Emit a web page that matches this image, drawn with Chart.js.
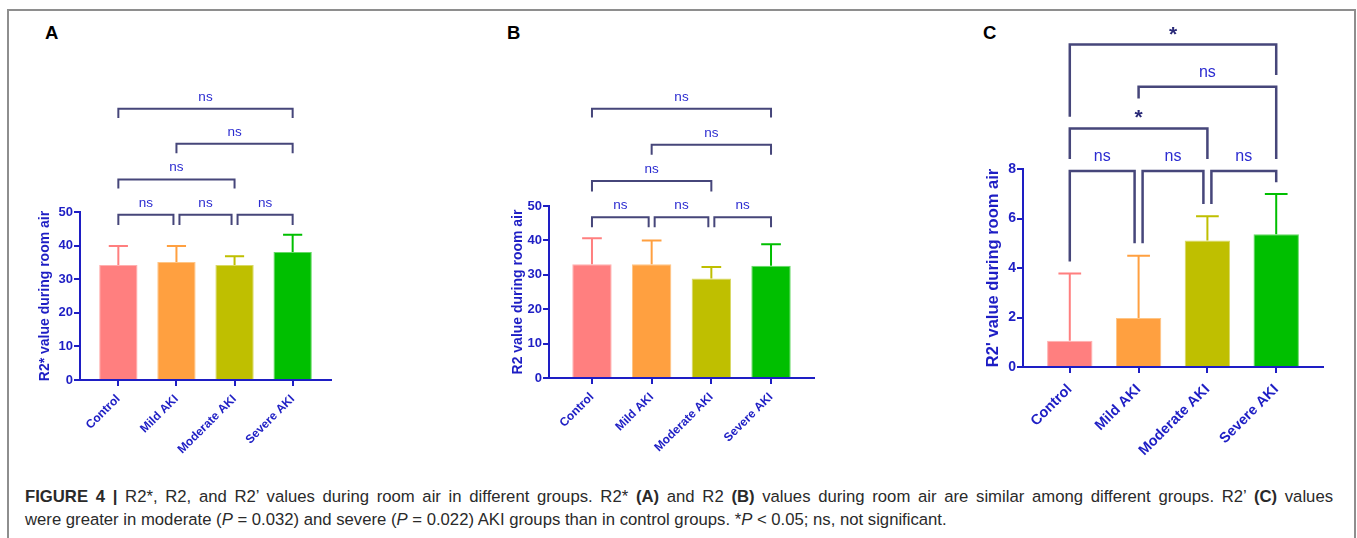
<!DOCTYPE html>
<html>
<head>
<meta charset="utf-8">
<script src="https://cdn.jsdelivr.net/npm/chart.js@4.4.1/dist/chart.umd.min.js"></script>
<style>
  body { margin: 0; background: #fff; width: 1357px; height: 538px; position: relative; overflow: hidden;
         font-family: "Liberation Sans", Arial, sans-serif; }
  .frame { position: absolute; left: 7px; top: 9px; width: 1349px; height: 560px; border: 2px solid #8e8e8e;
           border-bottom: none; box-sizing: border-box; }
  .letter { position: absolute; top: 24px; font-size: 18.5px; font-weight: bold; line-height: 1; color: #000; }
  canvas { position: absolute; }
  .caption { position: absolute; left: 25px; width: 1308px; font-size: 16.7px; line-height: 23px; color: #2a2a2a; }
  .justify { text-align: justify; text-align-last: justify; }
</style>
</head>
<body>
<div class="frame"></div>
<div class="letter" style="left:45px">A</div>
<div class="letter" style="left:507px">B</div>
<div class="letter" style="left:983px">C</div>
<canvas id="chartA" width="335" height="455" style="left:10px; top:12px"></canvas>
<canvas id="chartB" width="345" height="455" style="left:480px; top:12px"></canvas>
<canvas id="chartC" width="380" height="455" style="left:960px; top:12px"></canvas>
<div class="caption justify" style="top:485px"><b>FIGURE 4 |</b> R2*, R2, and R2’ values during room air in different groups. R2* <b>(A)</b> and R2 <b>(B)</b> values during room air are similar among different groups. R2’ <b>(C)</b> values</div>
<div class="caption" style="top:508px">were greater in moderate (<i>P</i> = 0.032) and severe (<i>P</i> = 0.022) AKI groups than in control groups. *<i>P</i> &lt; 0.05; ns, not significant.</div>
<script>
// groups and colours shared by the three panels
const groups = ['Control', 'Mild AKI', 'Moderate AKI', 'Severe AKI'];
const barColors = ['#ff7f7f', '#ffa040', '#bfbf00', '#00bf00'];
const edgeColors = ['#ffb0b0', '#ffc585', '#d9d966', '#66d966'];

// A: R2* (mean, SD)
const meanA = [34.2, 35.1, 34.2, 38.1];
const sdA = [5.7, 4.8, 2.6, 5.1];
const yTicksA = [0, 10, 20, 30, 40, 50];

// B: R2
const meanB = [33.1, 33.1, 28.9, 32.6];
const sdB = [7.5, 6.9, 3.4, 6.3];
const yTicksB = [0, 10, 20, 30, 40, 50];

// C: R2'
const meanC = [1.06, 1.98, 5.11, 5.36];
const sdC = [2.72, 2.52, 0.98, 1.63];
const yTicksC = [0, 2, 4, 6, 8];

// pairwise comparisons and their results
const pairs = [[0, 1], [1, 2], [2, 3], [0, 2], [1, 3], [0, 3]];
const sigA = ['ns', 'ns', 'ns', 'ns', 'ns', 'ns'];
const sigB = ['ns', 'ns', 'ns', 'ns', 'ns', 'ns'];
const sigC = ['ns', 'ns', 'ns', '*', 'ns', '*'];

// bracket heights in axis units: [bar, left leg end, right leg end]
const levelsA = [[49.2, 46.1, 46.1], [49.2, 46.1, 46.1], [49.2, 46.1, 46.1], [59.7, 57, 57], [70.3, 67.5, 67.5], [80.7, 78, 78]];
const levelsB = [[46.7, 43.8, 43.8], [46.7, 43.8, 43.8], [46.7, 43.8, 43.8], [57.3, 54.2, 54.2], [67.8, 64.9, 64.9], [78.3, 75.7, 75.7]];
const levelsC = [[7.92, 4.26, 5.0], [7.92, 5.0, 6.59], [7.92, 6.59, 7.46], [9.64, 8.4, 8.4], [11.32, 10.85, 8.4], [13.03, 10.11, 11.8]];

const axisColor = '#1e1ec4';
const bracketColor = '#46467a';
const fontFamily = '"Liberation Sans", Arial, sans-serif';

// error bars and significance brackets
function markings(cfg) {
    return {
        id: 'markings',
        afterDatasetsDraw(chart) {
            const ctx = chart.ctx;
            const y = chart.scales.y;
            const bars = chart.getDatasetMeta(0).data;
            ctx.save();
            ctx.lineWidth = cfg.errWidth;
            bars.forEach((bar, i) => {
                const base = y.getPixelForValue(cfg.mean[i]);
                const top = y.getPixelForValue(cfg.mean[i] + cfg.sd[i]);
                const half = bar.width / 4;
                ctx.strokeStyle = barColors[i];
                ctx.beginPath();
                ctx.moveTo(bar.x, base);
                ctx.lineTo(bar.x, top);
                ctx.moveTo(bar.x - half, top);
                ctx.lineTo(bar.x + half, top);
                ctx.stroke();
            });
            ctx.restore();
        },
        afterDraw(chart) {
            const ctx = chart.ctx;
            const y = chart.scales.y;
            const bars = chart.getDatasetMeta(0).data;
            ctx.save();
            ctx.strokeStyle = bracketColor;
            ctx.lineWidth = cfg.bracketWidth;
            ctx.textAlign = 'center';
            ctx.textBaseline = 'alphabetic';
            pairs.forEach(([a, b], k) => {
                const [lv, le, re] = cfg.levels[k];
                let xa = bars[a].x, xb = bars[b].x;
                if (b - a === 1) {
                    if (a > 0) xa += cfg.gap;
                    if (b < groups.length - 1) xb -= cfg.gap;
                }
                const yl = y.getPixelForValue(lv);
                ctx.beginPath();
                ctx.moveTo(xa, y.getPixelForValue(le));
                ctx.lineTo(xa, yl);
                ctx.lineTo(xb, yl);
                ctx.lineTo(xb, y.getPixelForValue(re));
                ctx.stroke();
                const label = cfg.sig[k];
                if (label === '*') {
                    ctx.font = `bold ${cfg.starSize}px ${fontFamily}`;
                    ctx.fillStyle = '#2a2a78';
                    ctx.fillText(label, (xa + xb) / 2, yl - cfg.starOffset);
                } else {
                    ctx.font = `${cfg.nsSize}px ${fontFamily}`;
                    ctx.fillStyle = '#2b2bd0';
                    ctx.fillText(label, (xa + xb) / 2, yl - cfg.nsOffset);
                }
            });
            ctx.restore();
        }
    };
}

function drawPanel(id, box, area, cfg) {
    const ctx = document.getElementById(id).getContext('2d');
    const tickFont = { family: fontFamily, weight: 'bold', size: cfg.tickSize };
    return new Chart(ctx, {
        type: 'bar',
        data: {
            datasets: [{
                data: cfg.mean.map((v, i) => ({ x: i, y: v })),
                backgroundColor: barColors,
                borderColor: edgeColors,
                borderWidth: 1,
                barPercentage: 0.66,
                categoryPercentage: 1
            }]
        },
        options: {
            responsive: false,
            animation: false,
            layout: { padding: { left: 0, bottom: 0, top: area.top - box.top, right: box.left + box.width - area.right } },
            plugins: { legend: { display: false }, tooltip: { enabled: false } },
            scales: {
                x: {
                    type: 'linear',
                    offset: false,
                    min: -cfg.edge,
                    max: groups.length - 1 + cfg.edge,
                    afterBuildTicks: s => { s.ticks = groups.map((g, i) => ({ value: i })); },
                    afterFit: s => { s.height = box.top + box.height - area.bottom; },
                    ticks: {
                        callback: v => groups[v],
                        autoSkip: false, minRotation: 45, maxRotation: 45,
                        color: axisColor, padding: cfg.xPad,
                        font: { family: fontFamily, weight: 'bold', size: cfg.xSize }
                    },
                    grid: { offset: false, drawOnChartArea: false, drawTicks: true, tickLength: 6, lineWidth: 2, color: axisColor },
                    border: { display: true, color: axisColor, width: 2 }
                },
                y: {
                    min: cfg.ticks[0],
                    max: cfg.ticks[cfg.ticks.length - 1],
                    afterBuildTicks: s => { s.ticks = cfg.ticks.map(v => ({ value: v })); },
                    afterFit: s => { s.width = area.left - box.left; },
                    ticks: { color: axisColor, padding: 1, font: tickFont },
                    grid: { drawOnChartArea: false, drawTicks: true, tickLength: 6, lineWidth: 2, color: axisColor },
                    border: { display: true, color: axisColor, width: 2 },
                    title: {
                        display: true, text: cfg.title, color: axisColor,
                        font: { family: fontFamily, weight: 'bold', size: cfg.titleSize },
                        padding: { top: cfg.titlePad, bottom: 0 }
                    }
                }
            }
        },
        plugins: [markings(cfg)]
    });
}

drawPanel('chartA',
    { left: 10, top: 12, width: 335, height: 455 },
    { left: 80, top: 212, right: 331, bottom: 380 },
    { mean: meanA, sd: sdA, ticks: yTicksA, sig: sigA, levels: levelsA, title: 'R2* value during room air',
      edge: 0.66, tickSize: 13, xSize: 12, xPad: 6, titleSize: 14, titlePad: 26.6,
      errWidth: 2, bracketWidth: 2, gap: 3, nsSize: 13.5, nsOffset: 8, starSize: 20, starOffset: 4 });

drawPanel('chartB',
    { left: 480, top: 12, width: 345, height: 455 },
    { left: 549, top: 206, right: 814, bottom: 378 },
    { mean: meanB, sd: sdB, ticks: yTicksB, sig: sigB, levels: levelsB, title: 'R2 value during room air',
      edge: 0.72, tickSize: 13, xSize: 12, xPad: 6, titleSize: 14, titlePad: 29.9,
      errWidth: 2, bracketWidth: 2, gap: 3, nsSize: 13.5, nsOffset: 8, starSize: 20, starOffset: 4 });

drawPanel('chartC',
    { left: 960, top: 12, width: 380, height: 455 },
    { left: 1023, top: 169, right: 1323, bottom: 367 },
    { mean: meanC, sd: sdC, ticks: yTicksC, sig: sigC, levels: levelsC, title: "R2' value during room air",
      edge: 0.68, tickSize: 14, xSize: 14.5, xPad: 8, titleSize: 16.5, titlePad: 23.4,
      errWidth: 2, bracketWidth: 2.5, gap: 4, nsSize: 16, nsOffset: 10, starSize: 21, starOffset: 4 });
</script>
</body>
</html>
